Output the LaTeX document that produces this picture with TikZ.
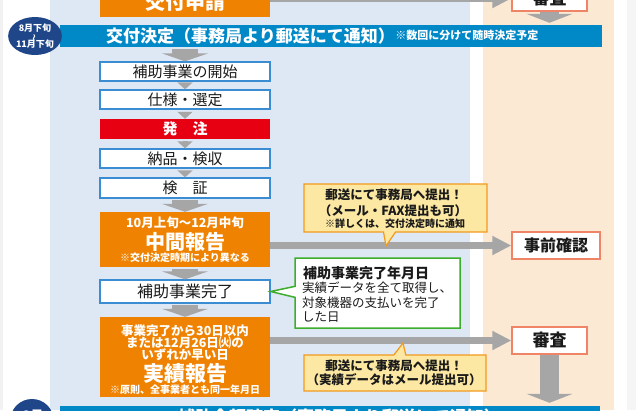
\documentclass[tikz,border=0pt]{standalone}
\usepackage{fontspec}
\setmainfont{Noto Sans CJK JP}
\usetikzlibrary{arrows.meta,shapes.callouts,shapes.geometric,calc}
\definecolor{panelblue}{HTML}{DEE8F4}
\definecolor{panelbeige}{HTML}{FCE9D3}
\definecolor{boxblue}{HTML}{3A8DD3}
\definecolor{orangeF}{HTML}{EF8200}
\definecolor{redF}{HTML}{E60012}
\definecolor{barblue}{HTML}{0088C7}
\definecolor{navy}{HTML}{1E4689}
\definecolor{grayA}{HTML}{A6A6A6}
\definecolor{yellowF}{HTML}{FCE8A2}
\definecolor{yellowB}{HTML}{F39A1E}
\definecolor{greenB}{HTML}{3DAE2B}
\definecolor{salmonB}{HTML}{F08467}
\definecolor{txt}{HTML}{1A1A1A}
\newcommand\myfs[2]{\fontsize{#1}{#2}\selectfont}
\begin{document}
\begin{tikzpicture}[x=1pt,y=-1pt,
  flowbox/.style={draw=boxblue, line width=1.3pt, fill=white, inner sep=0pt,
    minimum width=170pt, text=txt, font=\myfs{15}{18}},
  orangebox/.style={fill=orangeF, inner sep=0pt, minimum width=170pt},
  redbox/.style={fill=redF, inner sep=0pt, minimum width=170pt, text=white, font=\myfs{15}{18}\bfseries},
  salmonbox/.style={draw=salmonB, line width=1.3pt, fill=white, inner sep=0pt, text=txt, font=\myfs{17}{20}\bfseries},
  bar/.style={fill=barblue, inner sep=0pt},
  wtext/.style={text=white, inner sep=0pt},
  ktext/.style={text=txt, inner sep=0pt},
  smallarrow/.style={draw=grayA, line width=5pt, shorten <=2pt, -{Triangle[width=15pt,length=7pt]}},
  bigarrow/.style={draw=grayA, line width=26pt, shorten <=1.5pt, -{Triangle[width=46pt,length=8pt]}},
  harrow/.style={draw=grayA, line width=7pt, -{Triangle[width=18pt,length=19pt]}},
  varrow/.style={draw=grayA, line width=19pt, shorten >=2pt, -{Triangle[width=46pt,length=9pt]}},
  ycallout/.style={rectangle callout, draw=yellowB, fill=yellowF, line width=1.2pt, inner sep=0pt, callout pointer width=12pt},
  gcallout/.style={rectangle callout, draw=greenB, fill=white, line width=1.5pt, inner sep=0pt, callout pointer width=11pt},
  circ/.style={ellipse, fill=navy, inner sep=0pt, text=white, align=center}
]
\useasboundingbox (0,0) rectangle (636,410);
% backgrounds
\fill[white] (0,0) rectangle (636,410);
\fill[black!5] (0,0) rectangle (3,410);
\fill[black!4] (627,0) rectangle (636,410);
\fill[panelblue] (50,0) rectangle (470,410);
\fill[panelbeige] (483,0) rectangle (614,410);

% top partial row
\node[orangebox, minimum height=29pt] (koufu) at (185,2.5) {};
\node[wtext, font=\myfs{20}{22}\bfseries] (koufuT) at (185,2) {交付申請};
\node[salmonbox, minimum width=75pt, minimum height=25pt] (shinsaTop) at (549.5,-1.5) {審査};

% bar 1
\node[bar, minimum width=542pt, minimum height=22pt] (bar1) at (331,36) {};
\node[wtext, anchor=west, font=\myfs{17}{19}\bfseries] (bar1T) at (106,36) {交付決定（事務局より郵送にて通知）};
\node[wtext, anchor=west, font=\myfs{11}{12}\bfseries] (bar1N) at ([yshift=1pt]bar1T.east) {※数回に分けて随時決定予定};

% circle 1
\node[circ, minimum width=46pt, minimum height=38pt, font=\myfs{9}{8}\bfseries] (c1) at (35,36)
  {8月下旬\\\smash{\rotatebox[origin=c]{90}{\scalebox{0.8}{～}}}\\11月下旬};

% flow boxes
\node[flowbox, minimum height=19pt] (b1) at (185,71.5) {補助事業の開始};
\node[flowbox, minimum height=19pt] (b2) at (185,99.5) {仕様・選定};
\node[redbox, minimum height=20pt] (b3) at (185,129) {発　注};
\node[flowbox, minimum height=19pt] (b4) at (185,158.5) {納品・検収};
\node[flowbox, minimum height=20pt] (b5) at (185,188) {検　証};
\node[orangebox, minimum height=55pt] (chukan) at (185,239.5) {};
\node[wtext, font=\myfs{12.5}{14}\bfseries] (chukan1) at (185,223) {10月上旬～12月中旬};
\node[wtext, font=\myfs{20}{22}\bfseries] (chukan2) at (185,242) {中間報告};
\node[wtext, font=\myfs{10}{12}\bfseries] (chukan3) at (185,258) {※交付決定時期により異なる};
\node[flowbox, minimum height=23pt, font=\myfs{16}{18}] (kanryo) at (185,291.5) {補助事業完了};
\node[orangebox, minimum height=80pt] (jisseki) at (185,357) {};
\node[wtext, font=\myfs{12.5}{14}\bfseries] (js1) at (185,331) {事業完了から30日以内};
\node[wtext, font=\myfs{12.5}{14}\bfseries] (js2) at (185,343) {または12月26日㈫の};
\node[wtext, font=\myfs{12.5}{14}\bfseries] (js3) at (185,354.5) {いずれか早い日};
\node[wtext, font=\myfs{21}{23}\bfseries] (js4) at (185,374) {実績報告};
\node[wtext, font=\myfs{10}{12}\bfseries] (js5) at (185,390) {※原則、全事業者とも同一年月日};

% right boxes
\node[salmonbox, minimum width=88pt, minimum height=27pt, font=\myfs{16}{18}\bfseries] (jizen) at (556,245.5) {事前確認};
\node[salmonbox, minimum width=75pt, minimum height=27pt] (shinsa) at (549.5,340.5) {審査};

% bar 2 and circle 2
\node[bar, minimum width=540pt, minimum height=22pt] (bar2) at (330,417) {};
\node[wtext, anchor=west, font=\myfs{17}{19}\bfseries] (bar2T) at (178,417) {補助金額確定（事務局より郵送にて通知）};
\node[circ, minimum width=43pt, minimum height=42pt] (c2) at (32,420) {};
\node[wtext, font=\myfs{13}{14}\bfseries] (c2T) at (33,416) {3月};

% arrows
\draw[harrow] (koufu.east |- shinsaTop.west) -- (shinsaTop.west);
\draw[varrow] (shinsaTop.south) -- (shinsaTop.south |- bar1.north);
\draw[bigarrow] (bar1.south -| b1.north) -- (b1.north);
\draw[smallarrow] (b1.south) -- (b2.north);
\draw[smallarrow] (b2.south) -- (b3.north);
\draw[smallarrow] (b3.south) -- (b4.north);
\draw[smallarrow] (b4.south) -- (b5.north);
\draw[bigarrow] (b5.south) -- (chukan.north);
\draw[bigarrow] (chukan.south) -- (kanryo.north);
\draw[bigarrow] (kanryo.south) -- (jisseki.north);
\draw[harrow] (chukan.east |- jizen.west) -- (jizen.west);
\draw[harrow] (jisseki.east |- shinsa.west) -- (shinsa.west);
\draw[varrow, shorten >=3pt] (shinsa.south) -- (shinsa.south |- bar2.north);

% callouts
\coordinate (tip1) at (386,246);
\coordinate (tip2) at (403,343);
\node[ycallout, minimum width=183pt, minimum height=48pt, callout absolute pointer=(tip1)] (call1) at (395.5,208) {};
\node[ktext, font=\myfs{12.5}{14}\bfseries] (call1a) at (394,195) {郵送にて事務局へ提出！};
\node[ktext, font=\myfs{12.5}{14}\bfseries] (call1b) at (393,210.5) {（メール・FAX提出も可）};
\node[ktext, font=\myfs{10}{12}\bfseries] (call1c) at (395,223.5) {※詳しくは、交付決定時に通知};

\node[gcallout, minimum width=165pt, minimum height=70pt, callout absolute pointer=(kanryo.east)] (call2) at (377.5,293) {};
\node[ktext, anchor=west, font=\myfs{14}{16}\bfseries] (call2a) at (303,273) {補助事業完了年月日};
\node[ktext, anchor=west, font=\myfs{12.5}{14}] (call2b) at (302,288) {実績データを全て取得し、};
\node[ktext, anchor=west, font=\myfs{12.5}{14}] (call2c) at (302,302.5) {対象機器の支払いを完了};
\node[ktext, anchor=west, font=\myfs{12.5}{14}] (call2d) at (302,317) {した日};

\node[ycallout, minimum width=182pt, minimum height=36pt, callout absolute pointer=(tip2)] (call3) at (395,373) {};
\node[ktext, font=\myfs{12.5}{14}\bfseries] (call3a) at (394,366) {郵送にて事務局へ提出！};
\node[ktext, font=\myfs{12.5}{14}\bfseries] (call3b) at (394,380) {（実績データはメール提出可）};
\end{tikzpicture}
\end{document}
